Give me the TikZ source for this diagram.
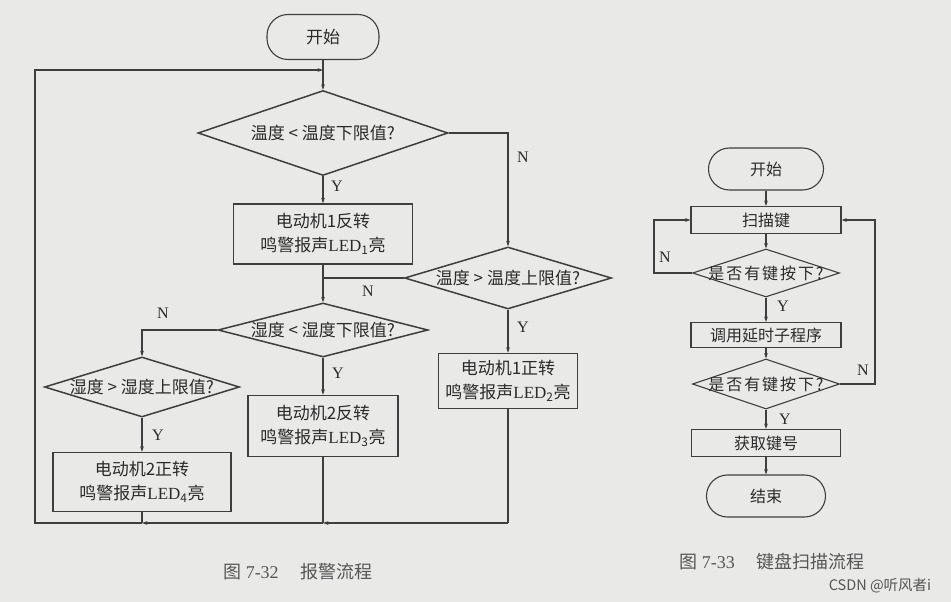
\documentclass[tikz,border=0pt]{standalone}
\usepackage{fontspec}
\setmainfont{Liberation Serif}
\newfontfamily\cjk{Noto Sans CJK SC}
\newfontfamily\cjkw[LetterSpace=12]{Noto Sans CJK SC}
\usetikzlibrary{shapes.geometric,arrows.meta}
\definecolor{bg}{RGB}{233,233,231}
\definecolor{ink}{RGB}{62,62,62}
\definecolor{txt}{RGB}{42,42,42}
\definecolor{captxt}{RGB}{85,85,85}
\begin{document}
\begin{tikzpicture}[x=1pt,y=-1pt,
  line/.style={draw=ink,line width=1.1pt},
  arr/.style={line,-{Stealth[length=5.5pt,width=3.8pt]}},
  proc/.style={draw=ink,line width=1.5pt,rectangle,inner sep=0pt},
  procs/.style={draw=ink,line width=1.1pt,rectangle,inner sep=0pt},
  dia/.style={draw=ink,line width=1.5pt,diamond,inner sep=0pt},
  dias/.style={draw=ink,line width=1.1pt,diamond,inner sep=0pt},
  term/.style={draw=ink,line width=1.1pt,rectangle,rounded corners=21pt,inner sep=0pt},
  lbl/.style={text=txt,font=\cjk\fontsize{17}{24}\selectfont,align=center,inner sep=0pt},
  lbls/.style={text=txt,font=\cjk\fontsize{16}{18}\selectfont,align=center,inner sep=0pt},
  lblw/.style={text=txt,font=\cjkw\fontsize{16}{18}\selectfont,align=center,inner sep=0pt},
  yn/.style={text=txt,font=\rmfamily\fontsize{16}{16}\selectfont,inner sep=0pt},
  captext/.style={text=captxt,font=\rmfamily\fontsize{18}{20}\selectfont,inner sep=0pt},
  wm/.style={text=captxt,font=\cjk\fontsize{14.5}{17}\selectfont,inner sep=0pt},
]
\fill[bg] (0,0) rectangle (951,602);
\useasboundingbox (0,0) rectangle (951,602);

% ---------- left chart ----------
\node[term,lbl,minimum width=112pt,minimum height=45pt] (s1) at (323,37) {开始};
\node[dia,minimum width=250pt,minimum height=85pt] (d1) at (323,133) {};
\node[lbl] (d1t) at (d1) {温度 < 温度下限值?};
\node[proc,lbl,minimum width=179pt,minimum height=60pt] (b1) at (323,234)
  {电动机1反转\\鸣警报声{\rmfamily LED}\textsubscript{1}亮};
\node[dia,minimum width=207pt,minimum height=62pt] (d2) at (508,278) {};
\node[lbl] (d2t) at (d2) {温度 > 温度上限值?};
\node[proc,lbl,minimum width=139pt,minimum height=55pt] (b2) at (508,381)
  {电动机1正转\\鸣警报声{\rmfamily LED}\textsubscript{2}亮};
\node[dia,minimum width=210pt,minimum height=54pt] (d3) at (323,330) {};
\node[lbl] (d3t) at (d3) {湿度 < 湿度下限值?};
\node[proc,lbl,minimum width=150pt,minimum height=61pt] (b3) at (323,426)
  {电动机2反转\\鸣警报声{\rmfamily LED}\textsubscript{3}亮};
\node[dia,minimum width=195pt,minimum height=60pt] (d4) at (142,387) {};
\node[lbl] (d4t) at (d4) {湿度 > 湿度上限值?};
\node[proc,lbl,minimum width=178pt,minimum height=59pt] (b4) at (142,482)
  {电动机2正转\\鸣警报声{\rmfamily LED}\textsubscript{4}亮};

\coordinate (j0) at (323,70);
\coordinate (c1) at (508,133);
\coordinate (j1) at (323,278);
\coordinate (c3) at (142,330);
\coordinate (r0) at (508,523);
\coordinate (m3) at (323,523);
\coordinate (m4) at (142,523);
\coordinate (l0) at (35,523);
\coordinate (l1) at (35,70);

\draw[arr] (s1) -- (d1);
\draw[arr] (d1) -- (b1);
\draw[arr] (d1.east) -- (c1) -- (d2.north);
\draw[line] (b1) -- (j1);
\draw[arr] (j1) -- (d3);
\draw[line] (d2.west) -- (j1);
\draw[arr] (d2) -- (b2);
\draw[arr] (d3) -- (b3);
\draw[arr] (d3.west) -- (c3) -- (d4.north);
\draw[arr] (d4) -- (b4);
\draw[line] (b2) -- (r0);
\draw[arr] (r0) -- (m3);
\draw[line] (b3) -- (m3);
\draw[arr] (m3) -- (m4);
\draw[line] (b4) -- (m4);
\draw[arr] (m4) -- (l0) -- (l1) -- (j0);

\node[yn] (y1) at (337,186) {Y};
\node[yn] (n1) at (523,157) {N};
\node[yn] (y2) at (523,327) {Y};
\node[yn] (n2) at (368,291) {N};
\node[yn] (n3) at (163,313) {N};
\node[yn] (y3) at (338,373) {Y};
\node[yn] (y4) at (158,435) {Y};

% ---------- right chart ----------
\node[term,lbls,minimum width=115pt,minimum height=42pt] (s2) at (766,169) {开始};
\node[procs,lbls,minimum width=150pt,minimum height=27pt] (k1) at (766,220) {扫描键};
\node[dias,minimum width=147pt,minimum height=48pt] (d5) at (766,273) {};
\node[lblw] (d5t) at (d5) {是否有键按下?};
\node[procs,lbls,minimum width=150pt,minimum height=25pt] (k2) at (766,335) {调用延时子程序};
\node[dias,minimum width=147pt,minimum height=50pt] (d6) at (766,384) {};
\node[lblw] (d6t) at (d6) {是否有键按下?};
\node[procs,lbls,minimum width=149pt,minimum height=27pt] (k3) at (766,443) {获取键号};
\node[term,lbls,minimum width=119pt,minimum height=42pt] (e2) at (766,496) {结束};

\coordinate (q1) at (654,273);
\coordinate (q2) at (654,220);
\coordinate (q3) at (875,384);
\coordinate (q4) at (875,220);

\draw[arr] (s2) -- (k1);
\draw[arr] (k1) -- (d5);
\draw[arr] (d5) -- (k2);
\draw[arr] (k2) -- (d6);
\draw[arr] (d6) -- (k3);
\draw[arr] (k3) -- (e2);
\draw[arr] (d5.west) -- (q1) -- (q2) -- (k1.west);
\draw[arr] (d6.east) -- (q3) -- (q4) -- (k1.east);

\node[yn] (n5) at (665,257) {N};
\node[yn] (y5) at (783,306) {Y};
\node[yn] (n6) at (863,370) {N};
\node[yn] (y6) at (785,419) {Y};

% ---------- captions ----------
\node[captext] (cap1) at (298,572) {{\cjk 图} 7-32\hspace{22pt}{\cjk 报警流程}};
\node[captext] (cap2) at (772,562) {{\cjk 图} 7-33\hspace{22pt}{\cjk 键盘扫描流程}};
\node[wm] (wm) at (880,586) {CSDN @听风者i};
\end{tikzpicture}
\end{document}
